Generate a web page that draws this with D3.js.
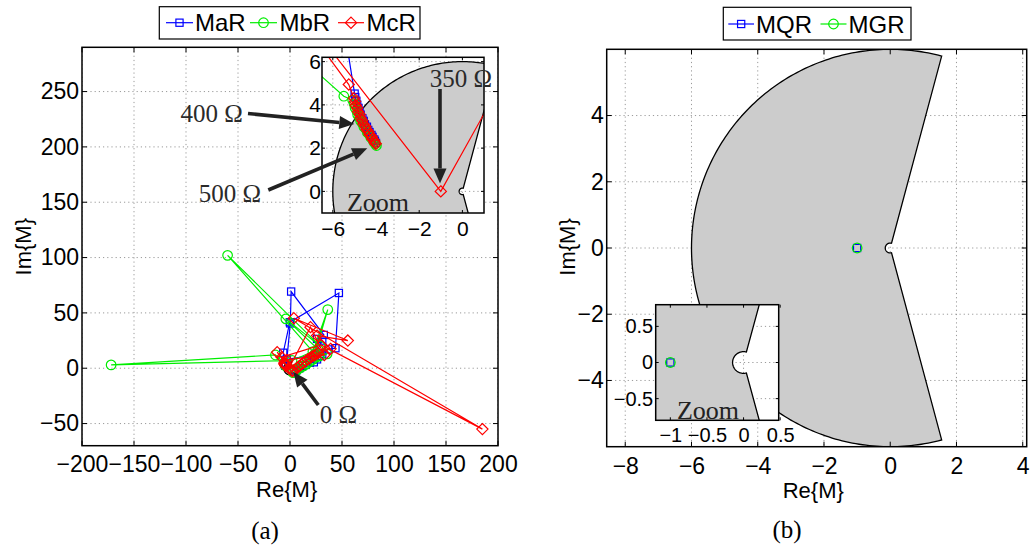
<!DOCTYPE html>
<html><head><meta charset="utf-8">
<script src="https://cdn.jsdelivr.net/npm/d3@7"></script>
<style>body{margin:0;background:#fff} svg{display:block}</style>
</head><body>
<svg id="c" width="1030" height="549"></svg>
<script>
// ---------- data (Re, Im) ----------
const maR = [[4,-3],[6,-2],[9,0],[12,2],[15,3],[19,5],[22.9,5.4],[26,8],[29,11],[31,13],
  [-3,8],[0.3,40.5],[1.1,69.3],[32.5,30.1],[26,26.5],[31,25],[24,12],[37,17],[43.7,18.1],[47,68],[-0.2,41.6],[-6.5,14],[-4.99,4.52],
  [-4.96,4.36],[-4.91,4.19],[-4.87,4.01],[-4.81,3.86],[-4.76,3.69],[-4.71,3.55],[-4.63,3.38],[-4.57,3.26],[-4.51,3.10],[-4.42,2.99],[-4.36,2.84],[-4.30,2.74],[-4.21,2.61],[-4.16,2.52],[-4.08,2.40],[-4.05,2.33],[-4.00,2.24]];
const mbR = [[3,-4],[5,-3],[7,-1.5],[10,0.5],[13,2],[16,4],[19,6],[22,8],[25,10],[28,11],
  [35.7,13],[24,13],[36.3,53],[22,15],[-60,102],[29,20],[-4,44.6],[27,17],[2,7],[-172,3],[-14,12],[-5.49,4.4],
  [-5.08,4.22],[-5.01,4.05],[-4.97,3.87],[-4.89,3.73],[-4.85,3.55],[-4.76,3.42],[-4.71,3.26],[-4.62,3.14],[-4.56,2.98],[-4.46,2.87],[-4.40,2.72],[-4.30,2.62],[-4.24,2.49],[-4.15,2.40],[-4.10,2.28],[-4.02,2.21],[-3.98,2.12]];
const mcR = [[2,-2.5],[3,-2],[5,-1],[7,0.5],[9,2],[11,3.5],[13,5],[15,6.5],[17,8],[19,9],[21,10.5],[23,11.5],[25,12.5],[27,13.5],
  [39,17.5],[26,29.5],[55.6,25],[3.7,45.2],[185,-55],[30,21],[-8,10],[-3,7.5],[33,12],[19.7,37.1],[-1,0],[-12.3,14.5],[-5.26,4.94],
  [-5.02,4.31],[-4.97,4.16],[-4.94,3.98],[-4.87,3.85],[-4.83,3.68],[-4.75,3.55],[-4.71,3.39],[-4.63,3.27],[-4.58,3.11],[-4.49,3.00],[-4.44,2.86],[-4.35,2.76],[-4.30,2.63],[-4.21,2.54],[-4.17,2.42],[-4.09,2.35],[-4.06,2.25],[-4.01,2.20]];
const mqR = [[-1,0]];
const mgR = [[-1,0]];
const legendA = ["MaR","MbR","McR"];
const legendB = ["MQR","MGR"];
const ticksAx = [-200,-150,-100,-50,0,50,100,150,200];
const ticksAy = [-50,0,50,100,150,200,250];
const ticksAix = [-6,-4,-2,0];
const ticksAiy = [0,2,4,6];
const ticksBx = [-8,-6,-4,-2,0,2,4];
const ticksBy = [-4,-2,0,2,4];
const ticksBix = [-1,-0.5,0,0.5];
const ticksBiy = [-0.5,0,0.5];
// stability region: annular sector (outer radius, inner radius, edge angle in degrees)
const regionOuter = 6, regionInner = 0.15, regionAngle = 75;

// ---------- drawing ----------
const svg = d3.select("#c");
const defs = svg.append("defs");
const SANS = "'Liberation Sans', Arial, Helvetica, sans-serif";
const SERIF = "'Liberation Serif', 'Times New Roman', serif";
const fmt = d => (d < 0 ? "\u2212" : "") + Math.abs(d);
let clipN = 0;

function makeAxes(c) {
  const g = svg.append("g");
  const x = d3.scaleLinear().domain(c.xd).range([c.l, c.r]);
  const y = d3.scaleLinear().domain(c.yd).range([c.b, c.t]);
  g.append("rect").attr("x", c.l).attr("y", c.t).attr("width", c.r - c.l).attr("height", c.b - c.t).attr("fill", "#fff");
  const id = "clip" + (clipN++);
  defs.append("clipPath").attr("id", id).append("rect")
    .attr("x", c.l).attr("y", c.t).attr("width", c.r - c.l).attr("height", c.b - c.t);
  const plot = g.append("g").attr("clip-path", `url(#${id})`);
  const grid = plot.append("g").attr("stroke", "#9a9a9a").attr("stroke-width", 1).attr("stroke-dasharray", "1.2,3");
  c.xt.forEach(v => grid.append("line").attr("x1", x(v)).attr("x2", x(v)).attr("y1", c.t).attr("y2", c.b));
  c.yt.forEach(v => grid.append("line").attr("y1", y(v)).attr("y2", y(v)).attr("x1", c.l).attr("x2", c.r));
  const data = plot.append("g");
  function finish() {
    const tk = g.append("g").attr("stroke", "#000").attr("stroke-width", 1);
    const L = c.tick;
    c.xt.forEach(v => {
      tk.append("line").attr("x1", x(v)).attr("x2", x(v)).attr("y1", c.b).attr("y2", c.b - L);
      tk.append("line").attr("x1", x(v)).attr("x2", x(v)).attr("y1", c.t).attr("y2", c.t + L);
    });
    c.yt.forEach(v => {
      tk.append("line").attr("y1", y(v)).attr("y2", y(v)).attr("x1", c.l).attr("x2", c.l + L);
      tk.append("line").attr("y1", y(v)).attr("y2", y(v)).attr("x1", c.r).attr("x2", c.r - L);
    });
    g.append("rect").attr("x", c.l).attr("y", c.t).attr("width", c.r - c.l).attr("height", c.b - c.t)
      .attr("fill", "none").attr("stroke", "#000").attr("stroke-width", c.bw || 1.5);
    const ax = g.append("g").attr("transform", `translate(0,${c.b})`)
      .call(d3.axisBottom(x).tickValues(c.xt).tickSize(0).tickPadding(c.xpad).tickFormat(fmt));
    const ay = g.append("g").attr("transform", `translate(${c.l},0)`)
      .call(d3.axisLeft(y).tickValues(c.yt).tickSize(0).tickPadding(c.ypad).tickFormat(fmt));
    [ax, ay].forEach(a => {
      a.select(".domain").remove();
      a.attr("font-family", SANS).attr("font-size", c.fs);
      a.selectAll("text").attr("fill", "#000");
    });
  }
  return { g, x, y, data, finish };
}

function region(A) {
  const pts = [];
  const rad = Math.PI / 180;
  for (let a = regionAngle; a <= 360 - regionAngle + 1e-9; a += 1) pts.push([regionOuter * Math.cos(a * rad), regionOuter * Math.sin(a * rad)]);
  for (let a = 360 - regionAngle; a >= regionAngle - 1e-9; a -= 3) pts.push([regionInner * Math.cos(a * rad), regionInner * Math.sin(a * rad)]);
  const line = d3.line().x(d => A.x(d[0])).y(d => A.y(d[1]));
  A.data.append("path").attr("d", line(pts) + "Z").attr("fill", "#cccccc").attr("stroke", "#000").attr("stroke-width", 1.3);
}

function marker(g, type, cx, cy, color) {
  if (type === "s") g.append("rect").attr("x", cx - 3.6).attr("y", cy - 3.6).attr("width", 7.2).attr("height", 7.2)
    .attr("fill", "none").attr("stroke", color).attr("stroke-width", 1.2);
  else if (type === "o") g.append("circle").attr("cx", cx).attr("cy", cy).attr("r", 4.8)
    .attr("fill", "none").attr("stroke", color).attr("stroke-width", 1.2);
  else g.append("path").attr("d", `M${cx},${cy - 5.6}L${cx + 5.6},${cy}L${cx},${cy + 5.6}L${cx - 5.6},${cy}Z`)
    .attr("fill", "none").attr("stroke", color).attr("stroke-width", 1.2);
}

function series(A, pts, color, type) {
  const line = d3.line().x(d => A.x(d[0])).y(d => A.y(d[1]));
  A.data.append("path").attr("d", line(pts)).attr("fill", "none").attr("stroke", color).attr("stroke-width", 1.2);
  const mg = A.data.append("g");
  pts.forEach(d => marker(mg, type, A.x(d[0]), A.y(d[1]), color));
}

function arrow(x1, y1, x2, y2) {
  const ang = Math.atan2(y2 - y1, x2 - x1), hl = 15, hw = 6.5;
  const bx = x2 - hl * Math.cos(ang), by = y2 - hl * Math.sin(ang);
  svg.append("line").attr("x1", x1).attr("y1", y1).attr("x2", bx).attr("y2", by)
    .attr("stroke", "#222").attr("stroke-width", 3.6);
  svg.append("path").attr("d", `M${x2},${y2}L${bx + hw * Math.sin(ang)},${by - hw * Math.cos(ang)}L${bx - hw * Math.sin(ang)},${by + hw * Math.cos(ang)}Z`)
    .attr("fill", "#222");
}
function label(txt, x, y, fs, fam, anchor, color, rot) {
  const t = svg.append("text").attr("x", x).attr("y", y).attr("font-size", fs).attr("font-family", fam)
    .attr("text-anchor", anchor || "middle").attr("fill", color || "#000").text(txt);
  if (rot) t.attr("transform", `rotate(${rot},${x},${y})`);
  return t;
}
function legend(box, items) {
  svg.append("rect").attr("x", box.x).attr("y", box.y).attr("width", box.w).attr("height", box.h)
    .attr("fill", "#fff").attr("stroke", "#000").attr("stroke-width", 1.2);
  items.forEach(it => {
    svg.append("line").attr("x1", it.l0).attr("x2", it.l1).attr("y1", box.cy).attr("y2", box.cy)
      .attr("stroke", it.color).attr("stroke-width", 1.2);
    marker(svg, it.type, (it.l0 + it.l1) / 2, box.cy, it.color);
    label(it.text, it.tx, box.base, 24, SANS, "start");
  });
}

// ----- Panel (a) -----
const A = makeAxes({ l: 82, r: 498, t: 47.3, b: 445.7, xd: [-200, 200], yd: [-70, 290], xt: ticksAx, yt: ticksAy,
  tick: 5, fs: 23, xpad: 10, ypad: 3 });
region(A);
series(A, maR, "#0000ff", "s");
series(A, mbR, "#00ee00", "o");
series(A, mcR, "#ff0000", "d");
A.finish();

const Ai = makeAxes({ l: 322, r: 484, t: 57.3, b: 213, xd: [-6.5, 1.0], yd: [-1, 6.2], xt: ticksAix, yt: ticksAiy,
  tick: 3, fs: 21, xpad: 8, ypad: 1, bw: 1.5 });
region(Ai);
series(Ai, maR, "#0000ff", "s");
series(Ai, mbR, "#00ee00", "o");
series(Ai, mcR, "#ff0000", "d");
Ai.finish();

label("Zoom", 378, 211, 26, SERIF, "middle", "#222");
label("400 Ω", 211.7, 121.5, 25, SERIF, "middle", "#2a2a2a");
label("500 Ω", 230, 202, 25, SERIF, "middle", "#2a2a2a");
label("350 Ω", 460.8, 86.5, 25, SERIF, "middle", "#2a2a2a");
label("0 Ω", 338.3, 423, 25, SERIF, "middle", "#2a2a2a");
arrow(248, 113.5, 354.3, 124);
arrow(268.3, 190, 367.3, 148.3);
arrow(440, 89, 440, 183.5);
arrow(318.3, 405, 293.3, 371.7);

label("Im{M}", 31, 246.7, 22, SANS, "middle", "#000", -90);
label("Re{M}", 286.7, 497, 22, SANS, "middle");
label("(a)", 265, 539, 25, SERIF, "middle");
legend({ x: 159.3, y: 6.7, w: 260.7, h: 32.3, cy: 22.7, base: 30.8 }, [
  { text: legendA[0], color: "#0000ff", type: "s", l0: 166, l1: 193, tx: 195 },
  { text: legendA[1], color: "#00ee00", type: "o", l0: 250, l1: 277, tx: 279.5 },
  { text: legendA[2], color: "#ff0000", type: "d", l0: 338, l1: 364, tx: 366.5 }
]);

// ----- Panel (b) -----
const B = makeAxes({ l: 606.7, r: 1026.7, t: 49.3, b: 446.7, xd: [-8.56, 4.12], yd: [-6, 6], xt: ticksBx, yt: ticksBy,
  tick: 5, fs: 23, xpad: 10.5, ypad: 3 });
region(B);
series(B, mqR, "#0000ff", "s");
series(B, mgR, "#00ee00", "o");
B.finish();

const Bi = makeAxes({ l: 655.7, r: 778.7, t: 304.7, b: 420.3, xd: [-1.2, 0.48], yd: [-0.8, 0.8], xt: ticksBix, yt: ticksBiy,
  tick: 3, fs: 20, xpad: 8, ypad: 2.5, bw: 1.5 });
region(Bi);
series(Bi, mqR, "#0000ff", "s");
series(Bi, mgR, "#00ee00", "o");
Bi.finish();
label("Zoom", 708, 419, 26, SERIF, "middle", "#222");

label("Im{M}", 575, 247, 22, SANS, "middle", "#000", -90);
label("Re{M}", 813.3, 498, 22, SANS, "middle");
label("(b)", 787, 538, 25, SERIF, "middle");
legend({ x: 723.3, y: 7.3, w: 187.7, h: 32.7, cy: 24, base: 32.5 }, [
  { text: legendB[0], color: "#0000ff", type: "s", l0: 728.3, l1: 754, tx: 756 },
  { text: legendB[1], color: "#00ee00", type: "o", l0: 820.5, l1: 846.5, tx: 848.5 }
]);
</script>
</body></html>
